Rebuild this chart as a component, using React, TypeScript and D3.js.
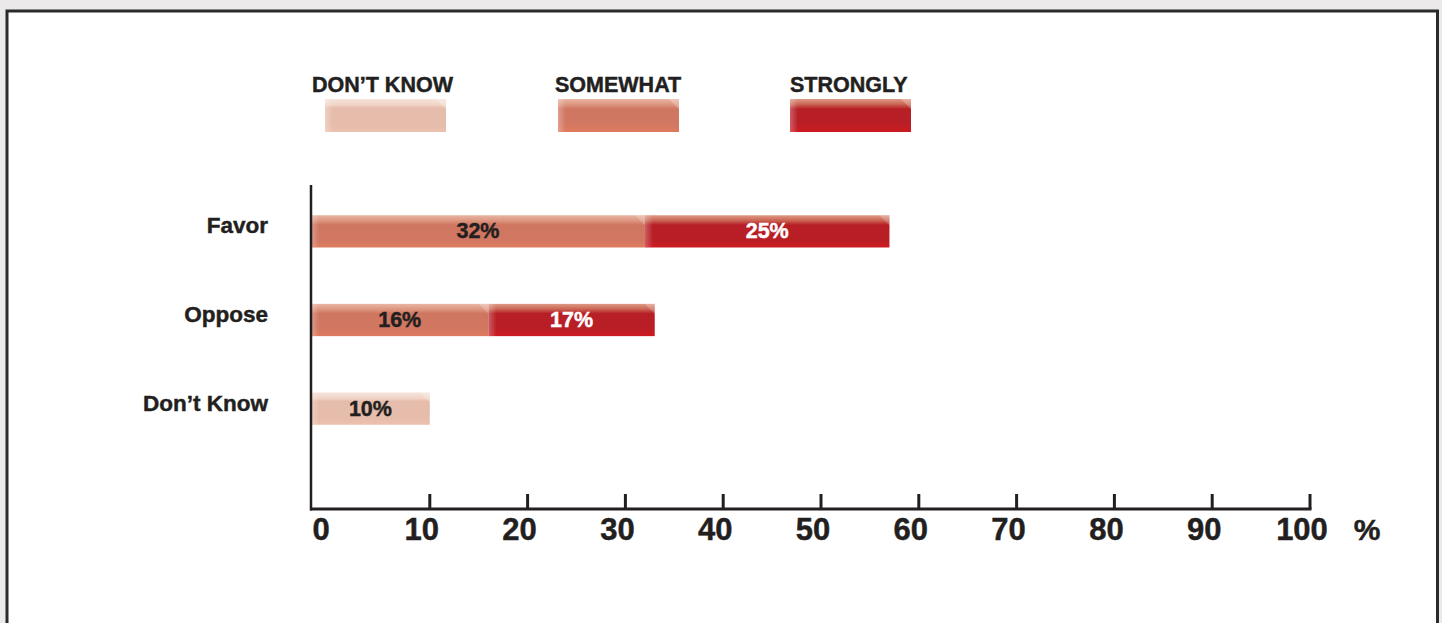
import React from "react";
import * as d3 from "d3";

// Response categories (rows) and stacked segment values in percent
const categories = ["Favor", "Oppose", "Don\u2019t Know"];
const dontKnowValues = [0, 0, 10];
const somewhatValues = [32, 16, 0];
const stronglyValues = [25, 17, 0];

const seriesNames = ["DON\u2019T KNOW", "SOMEWHAT", "STRONGLY"];
const xTicks = [0, 10, 20, 30, 40, 50, 60, 70, 80, 90, 100];

const W = 1442;
const H = 623;
const INK = "#231f20";

const FONT = "'Liberation Sans', Arial, Helvetica, sans-serif";

// gloss gradients per series
const gradients = [
  {
    id: "g-dk",
    stops: [
      [0, "#f5e3da"],
      [0.18, "#f0d4c7"],
      [0.27, "#e6bdac"],
      [0.8, "#e6bcab"],
      [1, "#eec1af"],
    ],
  },
  {
    id: "g-sw",
    stops: [
      [0, "#e8b6a4"],
      [0.18, "#dc937d"],
      [0.3, "#cf7661"],
      [0.75, "#d17762"],
      [1, "#df7b5e"],
    ],
  },
  {
    id: "g-st",
    stops: [
      [0, "#de9a86"],
      [0.16, "#cb6655"],
      [0.3, "#b71f26"],
      [0.75, "#b91e25"],
      [1, "#cd1a21"],
    ],
  },
];

// slightly heavier bold text
const heavy = (fill: string) => ({ fill, stroke: fill, strokeWidth: 0.45 });

export default function App() {
  const axisX = 311;
  const axisY = 509;
  const x = d3.scaleLinear().domain([0, 100]).range([332, 1310]);
  const y = d3
    .scaleBand<string>()
    .domain(categories)
    .range([185, 455])
    .paddingInner(0.636)
    .paddingOuter(0.341);
  const bw = y.bandwidth();

  // stack segments: don't know, somewhat, strongly
  const series = [dontKnowValues, somewhatValues, stronglyValues];
  const labelColors = [INK, INK, "#ffffff"];
  const segments: {
    cat: string;
    s: number;
    x0: number;
    x1: number;
    v: number;
  }[] = [];
  categories.forEach((cat, i) => {
    let cum = 0;
    series.forEach((vals, s) => {
      const v = vals[i];
      if (v > 0) {
        const x0 = cum === 0 ? axisX : x(cum);
        cum += v;
        segments.push({ cat, s, x0, x1: x(cum), v });
      }
    });
  });

  const legendX = [325, 558, 790];
  const legendTextX = [312, 555, 790];
  const swatchW = 121;

  return (
    <svg
      width={W}
      height={H}
      style={{ position: "absolute", left: 0, top: 0, fontFamily: FONT }}
    >
      <defs>
        {gradients.map((g) => (
          <linearGradient key={g.id} id={g.id} x1="0" y1="0" x2="0" y2="1">
            {g.stops.map(([o, c], k) => (
              <stop key={k} offset={o as number} stopColor={c as string} />
            ))}
          </linearGradient>
        ))}
        <linearGradient id="g-left" x1="0" y1="0" x2="1" y2="0">
          <stop offset="0" stopColor="#ffffff" stopOpacity={0.28} />
          <stop offset="1" stopColor="#ffffff" stopOpacity={0} />
        </linearGradient>
      </defs>

      <rect x={0} y={0} width={W} height={H} fill="#ebe9e9" />
      <rect x={7} y={11} width={1430.5} height={H} fill="#ffffff" stroke="#2b2b2b" strokeWidth={3} />

      {/* legend */}
      {seriesNames.map((name, s) => (
        <g key={name}>
          <text x={legendTextX[s]} y={92} fontSize={21.5} fontWeight="bold" {...heavy(INK)}>
            {name}
          </text>
          <rect x={legendX[s]} y={99} width={swatchW} height={33} fill={`url(#${gradients[s].id})`} />
          <rect x={legendX[s]} y={99} width={8} height={33} fill="url(#g-left)" />
          <path
            d={`M${legendX[s] + swatchW - 10},99 L${legendX[s] + swatchW},99 L${legendX[s] + swatchW},109 Z`}
            fill="#ffffff"
            opacity={0.25}
          />
        </g>
      ))}

      {/* bars */}
      {segments.map((d, k) => {
        const top = y(d.cat)!;
        return (
          <g key={k}>
            <rect x={d.x0} y={top} width={d.x1 - d.x0} height={bw} fill={`url(#${gradients[d.s].id})`} />
            <rect x={d.x0} y={top} width={Math.min(8, d.x1 - d.x0)} height={bw} fill="url(#g-left)" />
            <path
              d={`M${d.x1 - 10},${top} L${d.x1},${top} L${d.x1},${top + 10} Z`}
              fill="#ffffff"
              opacity={0.22}
            />
            <text
              x={(d.x0 + d.x1) / 2}
              y={top + bw / 2 + 7}
              textAnchor="middle"
              fontSize={21.5}
              fontWeight="bold"
              {...heavy(labelColors[d.s])}
            >
              {`${d.v}%`}
            </text>
          </g>
        );
      })}

      {/* category labels */}
      {categories.map((c) => (
        <text
          key={c}
          x={268}
          y={y(c)! + bw / 2 + 2}
          textAnchor="end"
          fontSize={22.5}
          fontWeight="bold"
          {...heavy(INK)}
        >
          {c}
        </text>
      ))}

      {/* axes */}
      <line x1={axisX} x2={axisX} y1={185} y2={axisY + 1.5} stroke={INK} strokeWidth={2.5} />
      <line x1={axisX - 1} x2={x(100) + 1.5} y1={axisY} y2={axisY} stroke={INK} strokeWidth={3} />
      {xTicks
        .filter((t) => t > 0)
        .map((t) => (
          <line key={t} x1={x(t)} x2={x(t)} y1={494} y2={axisY} stroke={INK} strokeWidth={3} />
        ))}
      {xTicks.map((t) => (
        <text
          key={t}
          x={t === 0 ? axisX + 10 : x(t) - 8}
          y={540}
          textAnchor="middle"
          fontSize={31}
          fontWeight="bold"
          {...heavy(INK)}
        >
          {t}
        </text>
      ))}
      <text x={1367} y={540} textAnchor="middle" fontSize={30} fontWeight="bold" {...heavy(INK)}>
        %
      </text>
    </svg>
  );
}
